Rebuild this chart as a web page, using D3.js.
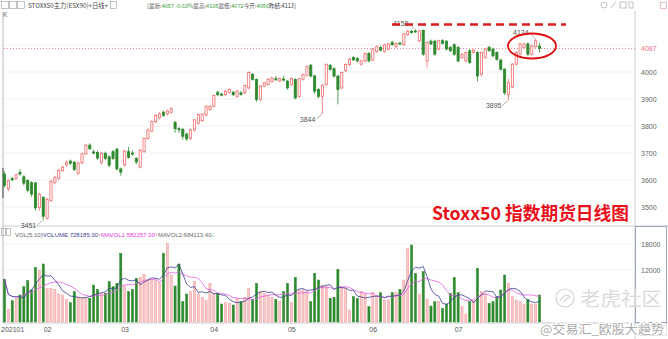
<!DOCTYPE html>
<html>
<head>
<meta charset="utf-8">
<script src="https://cdn.jsdelivr.net/npm/d3@7"></script>
<style>
  html, body { margin: 0; padding: 0; background: #fff; }
  svg { display: block; font-family: "Liberation Sans", Arial, sans-serif; }
</style>
</head>
<body>
<div id="chart"></div>
<script>
// Stoxx50 futures daily K-line, 2021-01-15 .. 2021-07-30
const opens = [3622,3568,3605,3606,3628,3612,3598,3590,3589,3498,3535,3458,3524,3590,3606,3636,3656,3670,3666,3625,
  3664,3697,3729,3704,3702,3664,3699,3686,3705,3714,3641,3656,3705,3700,3680,3648,3706,3754,3781,3816,
  3830,3851,3845,3851,3814,3790,3788,3770,3755,3785,3810,3820,3841,3861,3873,3925,3918,3916,3925,3925,
  3910,3923,3923,3941,3991,3972,3898,3948,3954,3965,3975,3967,3974,3966,3954,3972,3910,3973,3988,4025,
  3985,3935,3910,3954,4025,4012,3985,3941,4006,4028,4054,4050,4029,4041,4069,4044,4076,4091,4076,4085,
  4110,4094,4107,4101,4139,4150,4152,4116,4154,4041,4114,4114,4085,4116,4114,4091,4101,4091,4054,4041,
  4079,4072,4072,3991,4054,4091,4085,4072,4044,4010,3916,3945,4029,4066,4091,4104,4066,4094,4096];
const highs = [3632,3602,3612,3624,3640,3618,3603,3596,3593,3553,3541,3534,3601,3616,3641,3653,3672,3676,3671,3668,
  3701,3734,3736,3713,3709,3703,3705,3691,3711,3719,3646,3711,3723,3709,3685,3715,3759,3791,3821,3844,
  3851,3857,3861,3870,3819,3796,3792,3776,3790,3826,3846,3848,3876,3878,3916,3930,3924,3933,3939,3930,
  3933,3929,3953,4002,3996,3976,3952,3964,3977,3982,3985,3980,3986,3971,3980,3977,3979,3994,4024,4030,
  3990,3940,3955,4032,4030,4018,3990,4002,4032,4052,4058,4055,4045,4072,4074,4089,4098,4096,4105,4108,
  4116,4110,4112,4145,4155,4156,4158,4157,4158,4114,4120,4119,4120,4122,4118,4096,4106,4096,4070,4076,
  4084,4085,4077,4076,4089,4097,4090,4077,4049,4014,3975,4033,4076,4108,4108,4110,4101,4124,4108];
const lows = [3572,3558,3595,3600,3616,3580,3554,3538,3488,3486,3451,3454,3518,3584,3600,3630,3650,3655,3633,3618,
  3659,3692,3711,3694,3675,3657,3674,3648,3674,3635,3616,3649,3679,3689,3659,3643,3700,3749,3777,3811,
  3825,3834,3839,3846,3775,3774,3750,3745,3748,3780,3806,3815,3836,3856,3868,3910,3910,3910,3920,3911,
  3905,3912,3918,3936,3968,3890,3893,3943,3950,3960,3966,3962,3965,3935,3948,3898,3905,3968,3983,3980,
  3920,3903,3844,3949,4005,3980,3880,3936,4000,4022,4040,4036,4024,4036,4036,4040,4071,4077,4071,4080,
  4097,4089,4100,4096,4134,4142,4145,4110,4060,4016,4100,4060,4080,4102,4080,4074,4060,4035,4049,4036,
  4030,4068,3965,3985,4049,4075,4055,4042,4005,3915,3895,3940,4024,4061,4086,4060,4061,4090,4072];
const closes = [3580,3598,3601,3619,3622,3588,3562,3548,3497,3547,3466,3528,3595,3610,3636,3647,3666,3662,3639,3663,
  3697,3729,3716,3700,3681,3699,3680,3655,3680,3641,3629,3707,3684,3696,3667,3710,3754,3785,3816,3839,
  3845,3839,3855,3864,3790,3787,3762,3752,3785,3823,3843,3844,3873,3873,3913,3916,3916,3929,3935,3916,
  3929,3917,3950,3998,3973,3898,3948,3960,3973,3978,3972,3976,3971,3941,3976,3904,3975,3990,4020,3985,
  3929,3910,3950,4028,4010,3985,3935,3998,4028,4047,4045,4041,4041,4069,4041,4085,4094,4081,4101,4104,
  4101,4106,4105,4141,4151,4147,4150,4152,4066,4110,4104,4066,4116,4106,4085,4079,4066,4041,4066,4072,
  4035,4081,3985,4072,4085,4079,4060,4047,4010,3923,3960,4029,4072,4104,4104,4066,4097,4116,4087];
const volumes = [9850,2920,4920,5460,6230,8150,9540,7390,12620,11850,13390,7770,7770,7540,6460,6230,5230,4460,7000,5690,
  5460,5690,5460,8540,7540,6620,6620,9310,8150,8920,15850,8150,7000,7540,10080,10310,11000,9690,9850,9690,
  9080,15850,18150,10850,8310,13390,4690,6460,7000,9310,6460,5690,4920,8920,6620,6620,4150,4460,4310,3920,
  5460,4690,5690,7770,5230,8920,7000,6620,6230,5690,5230,4690,7000,8920,4460,10310,7390,7390,7000,4690,
  11230,9690,8540,8150,5460,5690,12160,8150,7770,2770,5850,5460,7000,6620,3540,6770,6000,6770,5080,5080,
  6770,6770,7540,9690,17000,17770,11230,6460,11620,5230,3690,4690,4690,3150,4150,6620,10310,6770,3540,1850,
  4690,5080,12390,7000,6620,4310,4690,5850,7390,10850,8920,5850,5080,4690,4150,5230,4150,4150,6230];
const monthStarts = [0, 11, 31, 54, 74, 95, 117];
const monthLabels = ["202101", "02", "03", "04", "05", "06", "07"];
const priceTicks = [3500, 3600, 3700, 3800, 3900, 4000];
const gridTicks = [3500, 3600, 3700, 3800, 3900, 4000, 4100];
const volTicks = [12000, 18000];
const lastPrice = 4087;
const marks = [
  { i: 10, v: 3451, low: true },
  { i: 82, v: 3844, low: true },
  { i: 106, v: 4158, low: false },
  { i: 130, v: 3895, low: true },
  { i: 137, v: 4124, low: false }
];
const infoParts = [["[最新:", "#555"], ["4087 -0.63% ", "#3a9a3a"], ["最高:", "#555"], ["4108 ", "#3a9a3a"],
  ["最低:", "#555"], ["4072 ", "#3a9a3a"], ["今开:", "#555"], ["4096 ", "#3a9a3a"], ["昨结:4113]", "#333"]];
const volParts = [["VOL(5,10) ", "#666"], ["VOLUME:728185.00", "#3b3f8f"], ["↑", "#e33"],
  ["MAVOL1:582257.00", "#e040e0"], ["↑", "#e33"], ["MAVOL2:684113.40", "#666"], ["↓", "#2a9a2a"]];

const W = 668, H = 339;
const RED = "#f06b6b", GREEN = "#2f8a2f", PINK = "#f8c6c6";
const CJK = '"Noto Sans CJK SC", sans-serif';

const svg = d3.select("#chart").append("svg")
  .attr("width", W).attr("height", H).attr("viewBox", `0 0 ${W} ${H}`);

const idx = d3.range(closes.length);
const x = d3.scaleBand().domain(idx).range([3, 541]).paddingInner(0.24);
const cx = i => x(i) + x.bandwidth() / 2;
const y = d3.scaleLinear().domain([3500, 4000]).range([207, 72]);
const yv = d3.scaleLinear().domain([0, 18000]).range([322, 244]);

// frame
svg.append("line").attr("x1", 3).attr("x2", 3).attr("y1", 12).attr("y2", 323).attr("stroke", "#bbb");
svg.append("line").attr("x1", 3).attr("x2", 3).attr("y1", 168).attr("y2", 198).attr("stroke", "#777").attr("stroke-width", 1.5);
svg.append("line").attr("x1", 635).attr("x2", 635).attr("y1", 11).attr("y2", 339).attr("stroke", "#c8ccd4");
svg.append("line").attr("x1", 3).attr("x2", 668).attr("y1", 226).attr("y2", 226).attr("stroke", "#c8ccd4");
svg.append("line").attr("x1", 3).attr("x2", 668).attr("y1", 323).attr("y2", 323).attr("stroke", "#c8ccd4");
svg.append("rect").attr("x", 635.5).attr("y", 226.5).attr("width", 31).attr("height", 96)
  .attr("fill", "none").attr("stroke", "#9aa9bb");

// grid
svg.append("g").selectAll("line").data(gridTicks).join("line")
  .attr("x1", 4).attr("x2", 635).attr("y1", d => y(d)).attr("y2", d => y(d))
  .attr("stroke", "#efefef");
svg.append("g").selectAll("line").data(volTicks).join("line")
  .attr("x1", 4).attr("x2", 635).attr("y1", d => yv(d)).attr("y2", d => yv(d))
  .attr("stroke", "#f2f2f2");

// last price dotted line
svg.append("line").attr("x1", 4).attr("x2", 635).attr("y1", y(lastPrice)).attr("y2", y(lastPrice))
  .attr("stroke", "#ec8a9a").attr("stroke-dasharray", "1,2");

// candles
const cg = svg.append("g");
idx.forEach(i => {
  const up = closes[i] >= opens[i];
  const col = up ? RED : GREEN;
  cg.append("line").attr("x1", cx(i)).attr("x2", cx(i))
    .attr("y1", y(highs[i])).attr("y2", y(lows[i])).attr("stroke", col).attr("stroke-width", 0.8);
  const top = y(Math.max(opens[i], closes[i]));
  const h = Math.max(1, y(Math.min(opens[i], closes[i])) - top);
  cg.append("rect").attr("x", x(i) + 0.4).attr("y", top)
    .attr("width", x.bandwidth() - 0.8).attr("height", h)
    .attr("fill", up ? "#fff" : GREEN).attr("stroke", col).attr("stroke-width", 0.8);
});

// high / low marks
const mg = svg.append("g").attr("font-size", 7).attr("fill", "#555");
marks.forEach(m => {
  const px = cx(m.i), py = y(m.v);
  const ly = m.low ? py + 5 : py - 6;
  mg.append("line").attr("x1", px - 6).attr("y1", ly).attr("x2", px - 1).attr("y2", py + (m.low ? 0.5 : -0.5))
    .attr("stroke", "#777").attr("stroke-width", 0.6);
  mg.append("text").attr("x", px - 7).attr("y", ly + 2.5).attr("text-anchor", "end").text(m.v);
});

// volume bars
const vg = svg.append("g");
idx.forEach(i => {
  const up = closes[i] >= opens[i];
  vg.append("rect").attr("x", x(i) + 0.4).attr("y", yv(volumes[i]))
    .attr("width", x.bandwidth() - 0.8).attr("height", yv(0) - yv(volumes[i]))
    .attr("fill", up ? PINK : GREEN).attr("stroke", up ? "#f29a9a" : GREEN).attr("stroke-width", 0.5);
});

// volume moving averages
const ma = n => volumes.map((v, i) => d3.mean(volumes.slice(Math.max(0, i - n + 1), i + 1)));
const ma5 = ma(5), ma10 = ma(10);
const line = d3.line().x((d, i) => cx(i)).y(d => yv(d));
svg.append("path").datum(ma10).attr("d", line).attr("fill", "none").attr("stroke", "#e25ee2").attr("stroke-width", 0.8);
svg.append("path").datum(ma5).attr("d", line).attr("fill", "none").attr("stroke", "#3b3f8f").attr("stroke-width", 0.8);

// right axes
const ax = svg.append("g").attr("transform", "translate(635,0)")
  .call(d3.axisRight(y).tickValues(priceTicks).tickSize(0).tickPadding(6).tickFormat(d3.format("d")));
ax.select(".domain").remove();
ax.selectAll("text").attr("font-size", 7).attr("fill", "#666");
svg.append("text").attr("x", 641).attr("y", y(lastPrice) + 2.5).attr("font-size", 7).attr("fill", "#ec6f8a").text(lastPrice);

const avx = svg.append("g").attr("transform", "translate(635,0)")
  .call(d3.axisRight(yv).tickValues(volTicks).tickSize(0).tickPadding(6).tickFormat(d3.format("d")));
avx.select(".domain").remove();
avx.selectAll("text").attr("font-size", 7).attr("fill", "#666");

// date axis
const dx = svg.append("g").attr("transform", "translate(0,323)")
  .call(d3.axisBottom(x).tickValues(monthStarts).tickSize(0).tickPadding(4)
    .tickFormat(d => monthLabels[monthStarts.indexOf(d)]));
dx.select(".domain").remove();
dx.selectAll("text").attr("font-size", 7).attr("fill", "#555").attr("text-anchor", "start")
  .attr("x", -x.bandwidth() / 2 - 2);

// a row of coloured text pieces, laid out one after another
function textRow(parts, x0, y0, size, family) {
  let px = x0;
  parts.forEach(([t, c]) => {
    const el = svg.append("text").attr("x", px).attr("y", y0).attr("font-size", size)
      .attr("font-family", family).attr("fill", c).text(t);
    px += el.node().getComputedTextLength();
  });
}

// header row
const hd = svg.append("g").attr("stroke", "#999").attr("fill", "none").attr("stroke-width", 0.6);
[1, 9, 17].forEach(px => hd.append("rect").attr("x", px + 0.5).attr("y", 1.5).attr("width", 7).attr("height", 7));
hd.append("rect").attr("x", 110.5).attr("y", 1.5).attr("width", 6).attr("height", 7);
hd.append("rect").attr("x", 1.5).attr("y", 228.5).attr("width", 4).attr("height", 7);
hd.append("rect").attr("x", 6.5).attr("y", 228.5).attr("width", 4).attr("height", 7);
svg.append("text").attr("x", 28).attr("y", 8).attr("font-family", CJK).attr("font-size", 6.5)
  .attr("fill", "#444").attr("textLength", 80).attr("lengthAdjust", "spacingAndGlyphs")
  .text("STOXX50主力(ESX90)+日线+");
textRow(infoParts, 147, 8, 5.6, CJK);
svg.append("text").attr("x", 3).attr("y", 17).attr("font-size", 6.5).attr("fill", "#666").text("K");

// toolbar icons top right
const tb = svg.append("g").attr("fill", "none").attr("stroke", "#aaa").attr("stroke-width", 0.7);
tb.append("circle").attr("cx", 604).attr("cy", 5).attr("r", 3);
tb.append("line").attr("x1", 611).attr("y1", 8).attr("x2", 616).attr("y2", 2);
tb.append("rect").attr("x", 620).attr("y", 2).attr("width", 6).attr("height", 6);
tb.append("rect").attr("x", 629).attr("y", 2).attr("width", 4).attr("height", 6);
svg.append("rect").attr("x", 660.5).attr("y", 2.5).attr("width", 6).attr("height", 6)
  .attr("fill", "none").attr("stroke", "#e6a0a0").attr("stroke-width", 0.7);

// volume header
textRow(volParts, 15, 236.5, 6, "Liberation Sans, Arial, sans-serif");

// annotations: previous high dashed line, circle, title
svg.append("line").attr("x1", 392).attr("x2", 566).attr("y1", 24.5).attr("y2", 24.5)
  .attr("stroke", "#d81e1e").attr("stroke-width", 2.6).attr("stroke-dasharray", "8,5");
svg.append("ellipse").attr("cx", 532).attr("cy", 46).attr("rx", 24).attr("ry", 12.5)
  .attr("fill", "none").attr("stroke", "#e01010").attr("stroke-width", 1.8);
svg.append("text").attr("x", 432).attr("y", 220).attr("font-family", CJK).attr("font-weight", "bold")
  .attr("font-size", 18).attr("fill", "#e8101a").attr("textLength", 197).attr("lengthAdjust", "spacingAndGlyphs")
  .text("Stoxx50 指数期货日线图");

// watermarks
const wm = svg.append("g");
wm.append("circle").attr("cx", 565).attr("cy", 298).attr("r", 9).attr("fill", "none").attr("stroke", "#d4d4d4").attr("stroke-width", 1.2);
wm.append("path").attr("d", "M560,301 q5,-9 10,-4 q-4,1 -6,5").attr("fill", "none").attr("stroke", "#d4d4d4").attr("stroke-width", 1.2);
wm.append("text").attr("x", 580).attr("y", 306).attr("font-family", CJK).attr("font-size", 19)
  .attr("fill", "#dadada").attr("textLength", 82).attr("lengthAdjust", "spacingAndGlyphs").text("老虎社区");
wm.append("text").attr("x", 540).attr("y", 334).attr("font-family", CJK).attr("font-size", 12)
  .attr("fill", "#aaa").attr("stroke", "#fff").attr("stroke-width", 2.5).attr("paint-order", "stroke")
  .attr("textLength", 124).attr("lengthAdjust", "spacingAndGlyphs").text("@交易汇_欧股大趋势");

// zoom buttons
const zb = svg.append("g").attr("fill", "none").attr("stroke", "#bbb").attr("stroke-width", 0.7);
zb.append("rect").attr("x", 640.5).attr("y", 325.5).attr("width", 26).attr("height", 10).attr("stroke", "#ddd");
zb.append("path").attr("d", "M643,330.5h5M645.5,328v5M655,330.5h5");
</script>
</body>
</html>
